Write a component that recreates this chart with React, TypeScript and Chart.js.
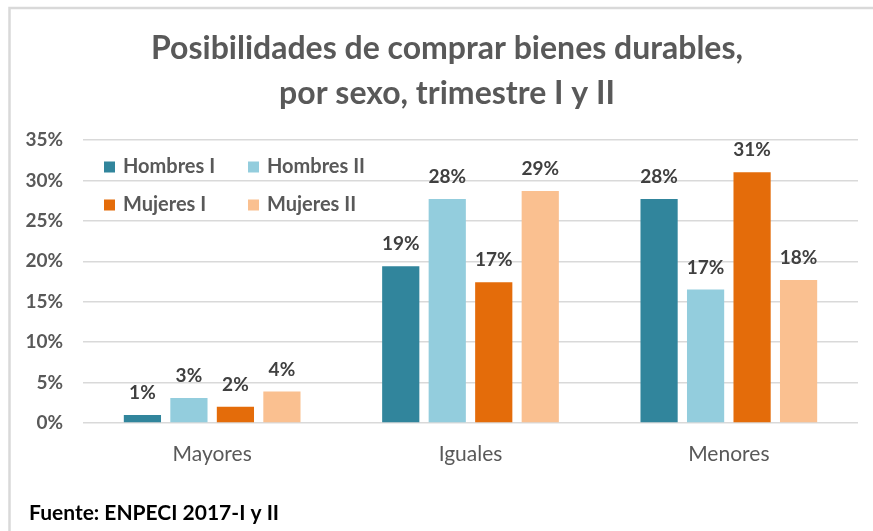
import React, { useEffect, useRef } from "react";
import { Chart, registerables } from "chart.js";

Chart.register(...registerables);

const titleLines = ["Posibilidades de comprar bienes durables,", "por sexo, trimestre I y II"];
const footerText = "Fuente: ENPECI 2017-I y II";
const categories = ["Mayores", "Iguales", "Menores"];
const seriesNames = ["Hombres I", "Hombres II", "Mujeres I", "Mujeres II"];
const seriesColors = ["#31859C", "#93CDDD", "#E46C0A", "#FAC090"];
const hombresI = [1.0, 19.4, 27.7];
const hombresII = [3.1, 27.7, 16.5];
const mujeresI = [2.0, 17.4, 31.0];
const mujeresII = [3.9, 28.7, 17.7];
const yTicks = [0, 5, 10, 15, 20, 25, 30, 35];

const FONT = "Lato, 'Open Sans', sans-serif";

const decorPlugin = {
  id: "decor",
  afterDatasetsDraw(chart: any) {
    const ctx = chart.ctx;
    ctx.save();
    ctx.fillStyle = "#404040";
    ctx.font = `bold 19px ${FONT}`;
    ctx.textAlign = "center";
    ctx.textBaseline = "middle";
    chart.data.datasets.forEach((ds: any, di: number) => {
      const meta = chart.getDatasetMeta(di);
      meta.data.forEach((bar: any, i: number) => {
        const v = ds.data[i];
        ctx.fillText(`${Math.round(v)}%`, bar.x, bar.y - 22);
      });
    });
    ctx.restore();
  },
  afterDraw(chart: any) {
    const ctx = chart.ctx;
    ctx.save();
    // chart border
    ctx.strokeStyle = "#d9d9d9";
    ctx.lineWidth = 2.5;
    ctx.beginPath();
    ctx.moveTo(9.5, 531);
    ctx.lineTo(9.5, 8);
    ctx.lineTo(873, 8);
    ctx.stroke();
    // title
    ctx.fillStyle = "#595959";
    ctx.font = `bold 32px ${FONT}`;
    ctx.textAlign = "center";
    ctx.textBaseline = "alphabetic";
    ctx.fillText(titleLines[0], 447, 59);
    ctx.fillText(titleLines[1], 447, 104);
    // legend
    const colX = [104, 248];
    const rowY = [167, 205];
    ctx.font = `bold 20px ${FONT}`;
    ctx.textAlign = "left";
    ctx.textBaseline = "middle";
    chart.data.datasets.forEach((ds: any, i: number) => {
      const x = colX[i % 2];
      const y = rowY[Math.floor(i / 2)];
      ctx.fillStyle = ds.backgroundColor;
      ctx.fillRect(x, y - 5.5, 11, 11);
      ctx.fillStyle = "#595959";
      ctx.fillText(ds.label, x + 19, y);
    });
    // footer
    ctx.fillStyle = "#000000";
    ctx.font = `bold 21px ${FONT}`;
    ctx.textAlign = "left";
    ctx.textBaseline = "middle";
    ctx.fillText(footerText, 29, 513);
    ctx.restore();
  },
};

export default function App() {
  const ref = useRef<HTMLCanvasElement | null>(null);
  useEffect(() => {
    if (!ref.current) return;
    const seriesData = [hombresI, hombresII, mujeresI, mujeresII];
    const chart = new Chart(ref.current, {
      type: "bar",
      data: {
        labels: categories,
        datasets: seriesNames.map((name, i) => ({
          label: name,
          data: seriesData[i],
          backgroundColor: seriesColors[i],
          borderWidth: 0,
          categoryPercentage: 0.72,
          barPercentage: 0.8,
        })),
      },
      options: {
        responsive: false,
        animation: false,
        layout: { padding: { left: 0, top: 140, right: 15, bottom: 0 } },
        plugins: {
          legend: { display: false },
          title: { display: false },
          tooltip: { enabled: false },
        },
        scales: {
          x: {
            grid: { display: false, drawTicks: false },
            border: { display: false },
            ticks: {
              color: "#595959",
              font: { family: FONT, size: 21 },
              padding: 19,
            },
            afterFit: (s: any) => {
              s.height = 108;
            },
          },
          y: {
            min: 0,
            max: 35,
            afterBuildTicks: (s: any) => {
              s.ticks = yTicks.map((v) => ({ value: v }));
            },
            grid: { color: "#d9d9d9", lineWidth: 1.5, drawTicks: false },
            border: { display: false },
            ticks: {
              color: "#595959",
              font: { family: FONT, size: 19, weight: "bold" },
              padding: 20,
              callback: (v: any) => `${v}%`,
            },
            afterFit: (s: any) => {
              s.width = 83;
            },
          },
        },
      },
      plugins: [decorPlugin],
    });
    return () => chart.destroy();
  }, []);
  return (
    <div style={{ position: "fixed", left: 0, top: 0, width: 873, height: 531, background: "#fff" }}>
      <canvas ref={ref} width={873} height={531} />
    </div>
  );
}
